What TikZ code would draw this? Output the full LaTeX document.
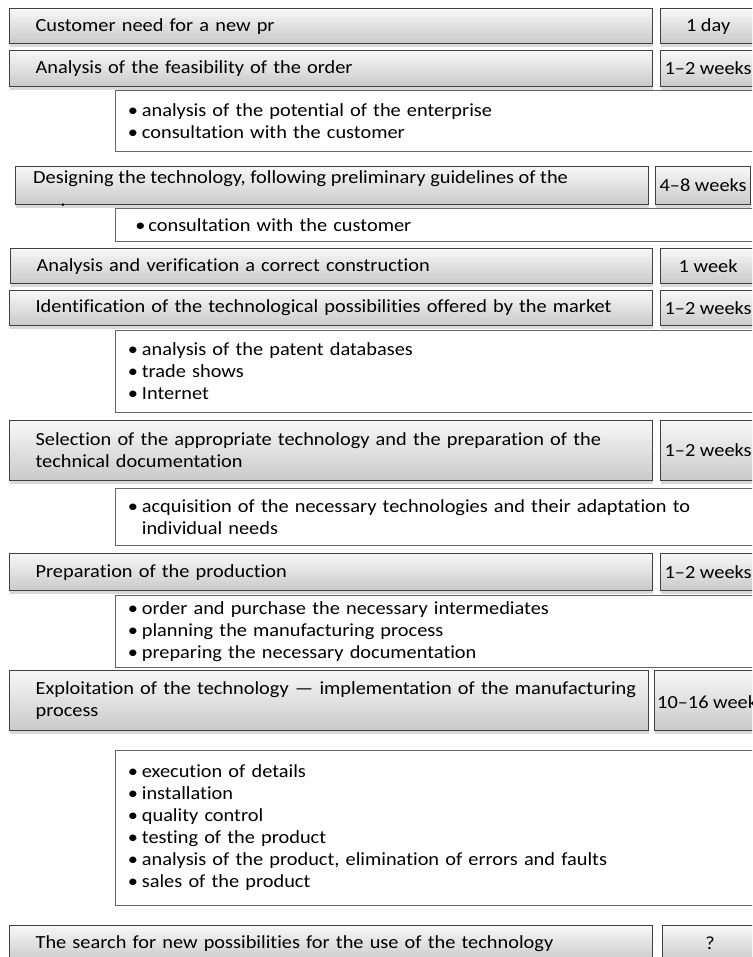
\documentclass[tikz,border=0pt]{standalone}
\usepackage{fontspec}
\setmainfont{Carlito}[FakeStretch=1.1, Ligatures=NoCommon]
\usetikzlibrary{positioning,shadows}
\newcommand{\fsz}{\fontsize{18.5pt}{22pt}\selectfont}
\newcommand{\itm}[1]{\makebox[14pt][l]{\textbullet}#1}
\tikzset{
  stage/.style={draw=black!75, line width=1.2pt, top color=black!3, bottom color=black!21,
    drop shadow={shadow xshift=0pt, shadow yshift=-3pt, opacity=.3},
    anchor=north west, inner sep=0pt, font=\fsz},
  phase/.style={stage, inner xsep=26pt, align=left},
  span/.style={stage, minimum width=95pt, align=center},
  items/.style={draw=black!60, line width=.8pt, fill=white, anchor=north west,
    minimum width=645pt, inner xsep=11pt, inner ysep=0pt, align=left, font=\fsz},
}

\begin{document}
\begin{tikzpicture}[x=1pt,y=-1pt]
\useasboundingbox (0,0) rectangle (752,957);
\clip (0,0) rectangle (752,957);
% step 1
\node[phase, text width=591pt, minimum height=35pt] (s1) at (9,8) {Customer need for a new pr};
\node[span, minimum height=35pt] (t1) at (660,8) {1 day};
% step 2
\node[phase, text width=591pt, minimum height=36pt] (s2) at (9,50) {Analysis of the feasibility of the order};
\node[span, minimum height=36pt] (t2) at (660,50) {1–2 weeks};
\node[items, minimum height=61pt, text width=620pt] (l1) at (115,90)
  {\itm{analysis of the potential of the enterprise}\\
   \itm{consultation with the customer}};
% step 3, text cut by the box
\node[stage, minimum width=633pt, minimum height=38pt] (s3) at (15,166) {};
\begin{scope}
\clip (s3.north west) rectangle (s3.south east);
\node[anchor=base west, inner sep=0pt, font=\fsz] (s3a) at (33,184)
  {Designing the technology, following preliminary guidelines of the};
\node[anchor=base west, inner sep=0pt, font=\fsz] (s3b) at (33,216) {customer};
\end{scope}
\node[span, minimum height=38pt] (t3) at (655,166) {4–8 weeks};
\node[items, minimum height=33pt, text width=615pt, inner xsep=20pt] (l2) at (115,208)
  {\makebox[13pt][l]{\textbullet}consultation with the customer};
% step 4
\node[phase, text width=590pt, minimum height=35pt] (s4) at (10,248) {Analysis and verification a correct construction};
\node[span, minimum height=35pt] (t4) at (660,248) {1 week};
% step 5
\node[phase, text width=591pt, minimum height=35pt] (s5) at (9,290) {Identification of the technological possibilities offered by the market};
\node[span, minimum height=35pt] (t5) at (660,290) {1–2 weeks};
\node[items, minimum height=82pt, text width=620pt] (l3) at (115,330)
  {\itm{analysis of the patent databases}\\
   \itm{trade shows}\\
   \itm{Internet}};
% step 6
\node[phase, text width=591pt, minimum height=60pt] (s6) at (9,420)
  {Selection of the appropriate technology and the preparation of the\\technical documentation};
\node[span, minimum height=60pt] (t6) at (660,420) {1–2 weeks};
\node[items, minimum height=57pt, text width=620pt] (l4) at (115,488)
  {\itm{acquisition of the necessary technologies and their adaptation to}\\
   \hspace*{14pt}individual needs};
% step 7
\node[phase, text width=591pt, minimum height=37pt] (s7) at (9,553) {Preparation of the production};
\node[span, minimum height=37pt] (t7) at (660,553) {1–2 weeks};
\node[items, minimum height=72pt, text width=620pt] (l5) at (115,595)
  {\itm{order and purchase the necessary intermediates}\\
   \itm{planning the manufacturing process}\\
   \itm{preparing the necessary documentation}};
% step 8
\node[phase, text width=587pt, minimum height=60pt] (s8) at (9,670)
  {\mbox{Exploitation of the technology — implementation of the manufacturing}\\process};
\node[stage, minimum width=100pt, minimum height=60pt] (t8) at (654,670) {};
\node[anchor=west, inner sep=0pt, font=\fsz] (t8t) at ([xshift=3pt,yshift=-2pt]t8.west) {10–16 weeks};
\node[items, minimum height=155pt, text width=620pt] (l6) at (115,750)
  {\itm{execution of details}\\
   \itm{installation}\\
   \itm{quality control}\\
   \itm{testing of the product}\\
   \itm{analysis of the product, elimination of errors and faults}\\
   \itm{sales of the product}};
% step 9
\node[phase, text width=591pt, minimum height=36pt] (s9) at (9,925) {The search for new possibilities for the use of the technology};
\node[span, minimum height=36pt] (t9) at (662,925) {?};
\end{tikzpicture}
\end{document}
